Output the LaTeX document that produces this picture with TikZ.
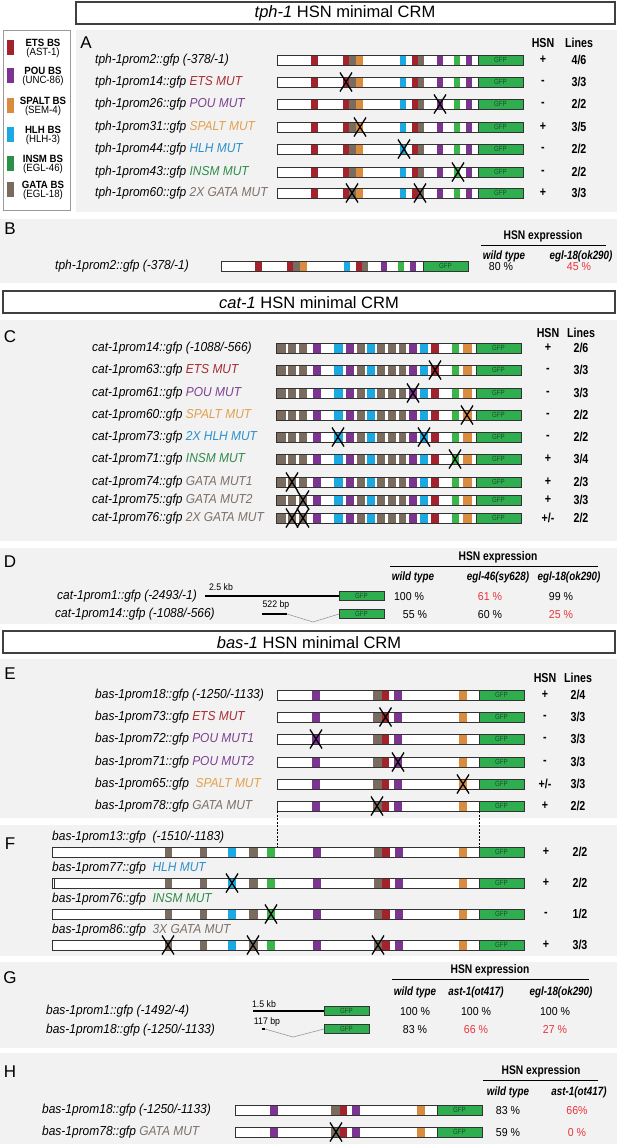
\documentclass[tikz,border=0pt]{standalone}
\usepackage{fontspec}
\setmainfont{Liberation Sans}
\newfontfamily\cond[FakeStretch=0.82]{Liberation Sans}
\newfontfamily\labf[FakeStretch=0.92]{Liberation Sans}
\definecolor{ets}{HTML}{A3222C}
\definecolor{pou}{HTML}{7B3590}
\definecolor{spalt}{HTML}{D98B3F}
\definecolor{hlh}{HTML}{1BA9E1}
\definecolor{insm}{HTML}{3BB54A}
\definecolor{insmL}{HTML}{2A9148}
\definecolor{gata}{HTML}{7A6B5F}
\definecolor{etsT}{HTML}{A82A33}
\definecolor{pouT}{HTML}{7E3F93}
\definecolor{spaltT}{HTML}{E2A04E}
\definecolor{hlhT}{HTML}{2B8FCB}
\definecolor{insmT}{HTML}{2E8B4A}
\definecolor{gataT}{HTML}{7D7068}
\definecolor{gfpg}{HTML}{2EAE4E}
\definecolor{gfptxt}{HTML}{1E4D2B}
\definecolor{panel}{HTML}{F2F2F2}
\definecolor{redpct}{HTML}{E8343C}
\newcommand{\tphsegs}{ets/34/41, ets/66/72, gata/72/79, spalt/79/86, hlh/123/129, ets/135/141, gata/141/147, pou/160/166, insm/177/183, pou/189/195}
\newcommand{\catsegs}{gata/0/10, gata/12/20, gata/23/31, pou/37/45, hlh/58/67, pou/70/78, gata/81/89, hlh/91/99, gata/101/109, gata/112/120, gata/123/130, pou/133/141, hlh/144/152, ets/155/163, insm/176/183, spalt/187/196}
\newcommand{\bassegs}{pou/35/43, gata/96/105, ets/105/112, pou/117/125, spalt/182/190}
\newcommand{\basFsegs}{gata/113/120, gata/148/155, hlh/176/184, gata/197/206, insm/215/223, pou/261/269, gata/322/330, ets/330/338, pou/343/351, spalt/407/415}
\newcommand{\gene}[4]{%
  \begin{scope}[shift={(#1,#2)}]
    \fill[white] (0,-5) rectangle (#3,5);
    \foreach \cc/\aa/\bb in #4 {\fill[\cc] (\aa,-5) rectangle (\bb,5);}
    \draw[bar] (0,-5) rectangle (#3-45,5);
    \draw[bar,fill=gfpg] (#3-45,-5) rectangle (#3,5);
    \node[gfpt] at (#3-22.5,0) {GFP};
  \end{scope}}
\newcommand{\gfpbox}[2]{%
  \draw[bar,fill=gfpg] (#1,#2-4.5) rectangle (#1+45,#2+4.5);
  \node[gfpt] at (#1+22.5,#2) {GFP};}
\newcommand{\xm}[2]{\draw[xmk] (#1-6,#2-9.5) -- (#1+6,#2+9.5) (#1+6,#2-9.5) -- (#1-6,#2+9.5);}
\begin{document}
\begin{tikzpicture}[x=1pt,y=-1pt,
  bar/.style={draw=black!80, line width=0.8pt},
  gfpt/.style={font=\cond\fontsize{7.5}{8}\selectfont, text=gfptxt, inner sep=0},
  xmk/.style={draw=black, line width=1.3pt},
  lab/.style={anchor=west, inner sep=0, font=\labf\itshape\fontsize{13}{15}\selectfont},
  hdr/.style={font=\cond\bfseries\fontsize{13}{15}\selectfont, inner sep=0},
  val/.style={font=\cond\bfseries\fontsize{13}{15}\selectfont, inner sep=0},
  ehdr/.style={font=\cond\bfseries\fontsize{12.5}{14}\selectfont, inner sep=0},
  esub/.style={font=\cond\bfseries\itshape\fontsize{12}{14}\selectfont, inner sep=0},
  pct/.style={font=\labf\fontsize{11.5}{13}\selectfont, inner sep=0},
  rpct/.style={pct, text=redpct},
  letter/.style={font=\fontsize{17}{20}\selectfont, inner sep=0},
  title/.style={draw=black!75, line width=1.3pt, fill=white},
  ttext/.style={font=\fontsize{16.5}{19}\selectfont, inner sep=0},
  pan/.style={fill=panel},
  legb/.style={font=\labf\bfseries\fontsize{10.5}{12}\selectfont, inner sep=0},
  legr/.style={font=\labf\fontsize{10.5}{12}\selectfont, inner sep=0},
  kb/.style={font=\labf\fontsize{9.5}{11}\selectfont, inner sep=0},
  scale line/.style={line width=1.6pt, black},
  vline/.style={draw=black!40, line width=0.6pt}]
\useasboundingbox (0,0) rectangle (617,1144);
\fill[white] (0,0) rectangle (617,1144);
% ---------------- panels
\fill[pan] (76,30) rectangle (617,212);
\fill[pan] (0,219) rectangle (617,283);
\fill[pan] (0,320) rectangle (617,541);
\fill[pan] (0,548) rectangle (617,624);
\fill[pan] (0,659) rectangle (617,818);
\fill[pan] (0,825) rectangle (617,956);
\fill[pan] (0,962) rectangle (617,1048);
\fill[pan] (0,1053) rectangle (617,1144);
% ---------------- titles
\draw[title] (76,2) rectangle (615,24);
\node[ttext] (t1) at (345,13.5) {\textit{tph-1} HSN minimal CRM};
\draw[title] (3,291) rectangle (615,313);
\node[ttext] (t2) at (309,302.5) {\textit{cat-1} HSN minimal CRM};
\draw[title] (3,631) rectangle (615,653);
\node[ttext] (t3) at (309,642.5) {\textit{bas-1} HSN minimal CRM};
% ---------------- legend
\draw[draw=black!40, line width=0.8pt, fill=white] (3,30) rectangle (70,210);
\foreach \yy/\col/\na/\nb in {47.5/ets/ETS BS/(AST-1), 75.5/pou/POU BS/(UNC-86), 105/spalt/SPALT BS/(SEM-4), 134/hlh/HLH BS/(HLH-3), 163.5/insmL/INSM BS/(EGL-46), 189.5/gata/GATA BS/(EGL-18)} {
  \fill[\col] (7,\yy-7.5) rectangle (14,\yy+7.5);
  \node[legb] at (43,\yy-4.5) {\na};
  \node[legr] at (43,\yy+5.5) {\nb};
}
% ================= A
\node[letter] (LA) at (86,43) {A};
\node[hdr] (hA1) at (543,43) {HSN};
\node[hdr] (hA2) at (579,43) {Lines};
\foreach \yy/\txt/\hs/\ln in {60/{tph-1prom2::gfp (-378/-1)}/+/4\slash6,
  82/{tph-1prom14::gfp \textcolor{etsT}{ETS MUT}}/-/3\slash3,
  104/{tph-1prom26::gfp \textcolor{pouT}{POU MUT}}/-/2\slash2,
  127/{tph-1prom31::gfp \textcolor{spaltT}{SPALT MUT}}/+/3\slash5,
  149/{tph-1prom44::gfp \textcolor{hlhT}{HLH MUT}}/-/2\slash2,
  172/{tph-1prom43::gfp \textcolor{insmT}{INSM MUT}}/-/2\slash2,
  193/{tph-1prom60::gfp \textcolor{gataT}{2X GATA MUT}}/+/3\slash3} {
  \node[lab] at (95,\yy) {\txt};
  \gene{277}{\yy}{246}{\tphsegs}
  \node[val] at (543,\yy) {\hs};
  \node[val] at (579,\yy) {\ln};
}
\xm{346}{82}
\xm{440}{104}
\xm{360}{127}
\xm{404}{149}
\xm{458}{172}
\xm{352}{193}
\xm{420}{193}
% ================= B
\node[letter] (LB) at (10,229) {B};
\node[lab] (lB1) at (55,266) {tph-1prom2::gfp (-378/-1)};
\gene{221}{266}{247}{\tphsegs}
\node[ehdr] (eB) at (543,236) {HSN expression};
\draw[line width=0.9pt] (481,245) -- (606,245);
\node[esub] (wB) at (504,256) {wild type};
\node[esub] (gB) at (581,256) {egl-18(ok290)};
\node[pct] (pB1) at (501,267) {80 \%};
\node[rpct] (pB2) at (579,267) {45 \%};
% ================= C
\node[letter] (LC) at (10,337) {C};
\node[hdr] (hC1) at (548,333) {HSN};
\node[hdr] (hC2) at (581,333) {Lines};
\foreach \yy/\txt/\hs/\ln in {348/{cat-1prom14::gfp (-1088/-566)}/+/2\slash6,
  370/{cat-1prom63::gfp \textcolor{etsT}{ETS MUT}}/-/3\slash3,
  393/{cat-1prom61::gfp \textcolor{pouT}{POU MUT}}/-/3\slash3,
  415/{cat-1prom60::gfp \textcolor{spaltT}{SPALT MUT}}/-/2\slash2,
  437/{cat-1prom73::gfp \textcolor{hlhT}{2X HLH MUT}}/-/2\slash2,
  459/{cat-1prom71::gfp \textcolor{insmT}{INSM MUT}}/+/3\slash4,
  482/{cat-1prom74::gfp \textcolor{gataT}{GATA MUT1}}/+/2\slash3,
  500/{cat-1prom75::gfp \textcolor{gataT}{GATA MUT2}}/+/3\slash3,
  518/{cat-1prom76::gfp \textcolor{gataT}{2X GATA MUT}}/+\slash-/2\slash2} {
  \node[lab] at (92,\yy) {\txt};
  \gene{276}{\yy}{245}{\catsegs}
  \node[val] at (548,\yy) {\hs};
  \node[val] at (581,\yy) {\ln};
}
\xm{435}{370}
\xm{413}{393}
\xm{467}{415}
\xm{338}{437}
\xm{424}{437}
\xm{455}{459}
\xm{292}{482}
\xm{303}{500}
\xm{292}{518}
\xm{303}{518}
% ================= D
\node[letter] (LD) at (10,562) {D};
\node[ehdr] (eD) at (498,557) {HSN expression};
\draw[line width=0.9pt] (390,566) -- (598,566);
\node[esub] (wD) at (413,577) {wild type};
\node[esub] (g46D) at (498,577) {egl-46(sy628)};
\node[esub] (g18D) at (569,577) {egl-18(ok290)};
\node[lab] (lD1) at (57,596) {cat-1prom1::gfp (-2493/-1)};
\node[lab] (lD2) at (55,614) {cat-1prom14::gfp (-1088/-566)};
\node[kb] (kD1) at (221,587) {2.5 kb};
\coordinate (d1a) at (205,596);
\coordinate (d1b) at (339,596);
\draw[scale line] (d1a) -- (d1b);
\gfpbox{339}{596}
\node[kb] (kD2) at (276,605) {522 bp};
\coordinate (d2a) at (262,614);
\coordinate (d2b) at (287,614);
\coordinate (d2c) at (313,622);
\coordinate (d2d) at (339,614);
\draw[vline] (d2b) -- (d2c) -- (d2d);
\draw[scale line] (d2a) -- (d2b);
\gfpbox{339}{614}
\node[pct] at (409,597) {100 \%};
\node[rpct] at (490,597) {61 \%};
\node[pct] at (561,597) {99 \%};
\node[pct] at (415,615) {55 \%};
\node[pct] at (490,615) {60 \%};
\node[rpct] at (561,615) {25 \%};
% ================= E
\node[letter] (LE) at (10,674) {E};
\node[hdr] (hE1) at (545,678) {HSN};
\node[hdr] (hE2) at (578,678) {Lines};
\foreach \yy/\txt/\hs/\ln in {695/{bas-1prom18::gfp (-1250/-1133)}/+/2\slash4,
  717/{bas-1prom73::gfp \textcolor{etsT}{ETS MUT}}/-/3\slash3,
  739/{bas-1prom72::gfp \textcolor{pouT}{POU MUT1}}/-/3\slash3,
  762/{bas-1prom71::gfp \textcolor{pouT}{POU MUT2}}/-/3\slash3,
  784/{bas-1prom65::gfp \ \textcolor{spaltT}{SPALT MUT}}/+\slash-/3\slash3,
  806/{bas-1prom78::gfp \textcolor{gataT}{GATA MUT}}/+/2\slash2} {
  \node[lab] at (95,\yy) {\txt};
  \gene{277}{\yy}{247}{\bassegs}
  \node[val] at (545,\yy) {\hs};
  \node[val] at (578,\yy) {\ln};
}
\xm{385.5}{717}
\xm{316}{739}
\xm{398}{762}
\xm{463}{784}
\xm{377}{806}
% ================= F
\node[letter] (LF) at (10,844) {F};
\coordinate (e1) at (277,811);
\coordinate (e2) at (479,811);
\coordinate (f1) at (277,847);
\coordinate (f2) at (479,847);
\draw[dashed, line width=0.6pt, dash pattern=on 2pt off 1.5pt] (e1) -- (f1);
\draw[dashed, line width=0.6pt, dash pattern=on 2pt off 1.5pt] (e2) -- (f2);
\foreach \yy/\ly/\txt/\hs/\ln in {852/837/{bas-1prom13::gfp \ (-1510/-1183)}/+/2\slash2,
  883/868/{bas-1prom77::gfp \ \textcolor{hlhT}{HLH MUT}}/+/2\slash2,
  914/899/{bas-1prom76::gfp \ \textcolor{insmT}{INSM MUT}}/-/1\slash2,
  945/930/{bas-1prom86::gfp \ \textcolor{gataT}{3X GATA MUT}}/+/3\slash3} {
  \node[lab] at (52,\ly) {\txt};
  \gene{52}{\yy}{472}{\basFsegs}
  \node[val] at (546,\yy) {\hs};
  \node[val] at (580,\yy) {\ln};
}
\draw[bar] (52,878) rectangle (54.5,888);
\xm{232}{883}
\xm{271}{914}
\xm{168}{945}
\xm{253}{945}
\xm{378}{945}
% ================= G
\node[letter] (LG) at (10,978) {G};
\node[ehdr] (eG) at (490,970) {HSN expression};
\draw[line width=0.9pt] (392,979) -- (589,979);
\node[esub] (wG) at (415,992) {wild type};
\node[esub] (aG) at (476,992) {ast-1(ot417)};
\node[esub] (gG) at (561,992) {egl-18(ok290)};
\node[lab] (lG1) at (46,1011) {bas-1prom1::gfp (-1492/-4)};
\node[lab] (lG2) at (46,1030) {bas-1prom18::gfp (-1250/-1133)};
\node[kb] (kG1) at (264,1004) {1.5 kb};
\coordinate (g1a) at (253,1011);
\coordinate (g1b) at (324,1011);
\draw[scale line] (g1a) -- (g1b);
\gfpbox{324}{1011}
\node[kb] (kG2) at (267,1022) {117 bp};
\coordinate (g2a) at (262,1029);
\coordinate (g2b) at (265,1029);
\coordinate (g2c) at (293,1037);
\coordinate (g2d) at (324,1029);
\draw[vline] (g2b) -- (g2c) -- (g2d);
\draw[scale line] (g2a) -- (g2b);
\gfpbox{324}{1029}
\node[pct] at (415,1012) {100 \%};
\node[pct] at (476,1012) {100 \%};
\node[pct] at (555,1012) {100 \%};
\node[pct] at (415,1030) {83 \%};
\node[rpct] at (476,1030) {66 \%};
\node[rpct] at (555,1030) {27 \%};
% ================= H
\node[letter] (LH) at (10,1072) {H};
\node[ehdr] (eH) at (541,1071) {HSN expression};
\draw[line width=0.9pt] (483,1080) -- (598,1080);
\node[esub] (wH) at (508,1092) {wild type};
\node[esub] (aH) at (579,1092) {ast-1(ot417)};
\node[lab] (lH1) at (42,1110) {bas-1prom18::gfp (-1250/-1133)};
\node[lab] (lH2) at (42,1132) {bas-1prom78::gfp \textcolor{gataT}{GATA MUT}};
\gene{235}{1110}{247}{\bassegs}
\gene{235}{1132}{247}{\bassegs}
\xm{336}{1132}
\node[pct] at (508,1111) {83 \%};
\node[rpct] at (577,1111) {66\%};
\node[pct] at (508,1133) {59 \%};
\node[rpct] at (577,1133) {0 \%};
\end{tikzpicture}
\end{document}
